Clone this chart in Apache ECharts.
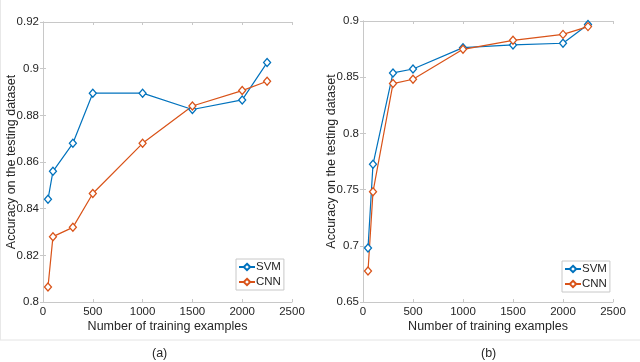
<!DOCTYPE html>
<html>
<head>
<meta charset="utf-8">
<script src="https://cdn.jsdelivr.net/npm/echarts@6/dist/echarts.min.js"></script>
<style>
  html, body { margin: 0; padding: 0; background: #fff; }
  #chart { width: 640px; height: 362px; }
</style>
</head>
<body>
<div id="chart"></div>
<script>
// training set sizes (same for both panels)
const examples = [50, 100, 300, 500, 1000, 1500, 2000, 2250];

// panel (a)
const svmA = [0.844, 0.856, 0.868, 0.8895, 0.8895, 0.8825, 0.8866, 0.9026];
const cnnA = [0.8064, 0.828, 0.832, 0.8465, 0.868, 0.884, 0.8906, 0.8946];

// panel (b)
const svmB = [0.698, 0.7725, 0.8538, 0.8573, 0.8763, 0.8787, 0.8802, 0.8968];
const cnnB = [0.6776, 0.748, 0.8443, 0.8482, 0.8748, 0.8828, 0.8881, 0.895];

const xTicks = [0, 500, 1000, 1500, 2000, 2500];
const yTicksA = [0.8, 0.82, 0.84, 0.86, 0.88, 0.9, 0.92];
const yTicksB = [0.65, 0.7, 0.75, 0.8, 0.85, 0.9];

const captions = ['(a)', '(b)'];
const seriesNames = ['SVM', 'CNN'];

const blue = '#0072BD';
const orange = '#D95319';
const font = 'Liberation Sans, Arial, sans-serif';
const textColor = '#262626';
const boxColor = '#c8c8c8';

const pair = (xs, ys) => xs.map((x, i) => [x, ys[i]]);

function mainX(gridIndex) {
    return {
        type: 'value', gridIndex,
        min: xTicks[0], max: xTicks[xTicks.length - 1], interval: 500,
        name: 'Number of training examples',
        nameLocation: 'middle', nameGap: 18, nameMoveOverlap: false,
        nameTextStyle: { fontFamily: font, fontSize: 12.5, color: textColor },
        axisLine: { show: true, lineStyle: { color: boxColor } },
        axisTick: { show: true, inside: true, length: 3, lineStyle: { color: boxColor } },
        axisLabel: { fontFamily: font, fontSize: 11.5, color: textColor, margin: 4, formatter: v => String(v) },
        splitLine: { show: false }
    };
}
function topX(gridIndex) {
    return {
        type: 'value', gridIndex, position: 'top',
        min: xTicks[0], max: xTicks[xTicks.length - 1], interval: 500,
        axisLine: { show: true, lineStyle: { color: boxColor } },
        axisTick: { show: true, inside: true, length: 3, lineStyle: { color: boxColor } },
        axisLabel: { show: false },
        splitLine: { show: false }
    };
}
function mainY(gridIndex, ticks, step) {
    return {
        type: 'value', gridIndex,
        min: ticks[0], max: ticks[ticks.length - 1], interval: step,
        name: 'Accuracy on the testing dataset',
        nameLocation: 'middle', nameGap: 25, nameMoveOverlap: false,
        nameTextStyle: { fontFamily: font, fontSize: 12.5, color: textColor },
        axisLine: { show: true, lineStyle: { color: boxColor } },
        axisTick: { show: true, inside: true, length: 3, lineStyle: { color: boxColor } },
        axisLabel: {
            fontFamily: font, fontSize: 11.5, color: textColor, margin: 4,
            formatter: v => String(+v.toFixed(2))
        },
        splitLine: { show: false }
    };
}
function rightY(gridIndex, ticks, step) {
    return {
        type: 'value', gridIndex, position: 'right',
        min: ticks[0], max: ticks[ticks.length - 1], interval: step,
        axisLine: { show: true, lineStyle: { color: boxColor } },
        axisTick: { show: true, inside: true, length: 3, lineStyle: { color: boxColor } },
        axisLabel: { show: false },
        splitLine: { show: false }
    };
}
function line(name, color, data, xi, yi) {
    return {
        name, type: 'line', data,
        xAxisIndex: xi, yAxisIndex: yi,
        symbol: 'diamond', symbolSize: [7, 8],
        lineStyle: { color, width: 1.2 },
        itemStyle: { color: '#fff', borderColor: color, borderWidth: 1.3 },
        emphasis: { disabled: true },
        animation: false
    };
}
function legend(left, top) {
    return {
        left, top, orient: 'vertical',
        data: seriesNames,
        itemWidth: 16, itemHeight: 8, itemGap: 3,
        padding: [2, 3, 2, 2],
        borderColor: '#c8c8c8', borderWidth: 1, backgroundColor: '#fff',
        textStyle: { fontFamily: font, fontSize: 11.5, color: textColor, padding: [0, 0, 0, -4] },
        selectedMode: false
    };
}

const option = {
    backgroundColor: '#fff',
    animation: false,
    grid: [
        { left: 43, top: 22, width: 249, height: 280 },
        { left: 363, top: 21, width: 250, height: 281 }
    ],
    xAxis: [mainX(0), mainX(1), topX(0), topX(1)],
    yAxis: [mainY(0, yTicksA, 0.02), mainY(1, yTicksB, 0.05), rightY(0, yTicksA, 0.02), rightY(1, yTicksB, 0.05)],
    legend: [legend(236, 259), legend(562, 261)],
    series: [
        line(seriesNames[0], blue, pair(examples, svmA), 0, 0),
        line(seriesNames[1], orange, pair(examples, cnnA), 0, 0),
        line(seriesNames[0], blue, pair(examples, svmB), 1, 1),
        line(seriesNames[1], orange, pair(examples, cnnB), 1, 1)
    ],
    graphic: [
        { type: 'line', shape: { x1: 0, y1: 340, x2: 640, y2: 340 }, style: { stroke: '#e4e4e4', lineWidth: 1 } },
        { type: 'line', shape: { x1: 0.5, y1: 0, x2: 0.5, y2: 340 }, style: { stroke: '#e8e8e8', lineWidth: 1 } },
        { type: 'text', left: 160 - 8, top: 347, style: { text: captions[0], font: '12.5px ' + font, fill: textColor } },
        { type: 'text', left: 489 - 8, top: 347, style: { text: captions[1], font: '12.5px ' + font, fill: textColor } }
    ]
};

echarts.init(document.getElementById('chart'), null, { renderer: 'canvas' }).setOption(option);
</script>
</body>
</html>
